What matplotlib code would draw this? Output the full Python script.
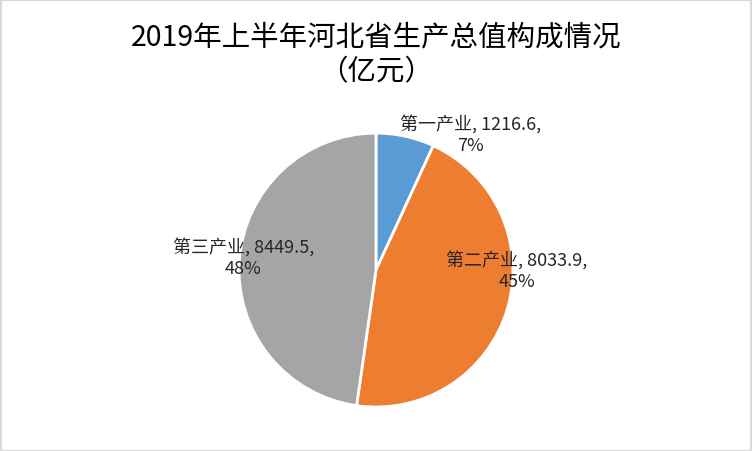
import numpy as np
import matplotlib
matplotlib.use('Agg')
from matplotlib import pyplot as plt

plt.rcParams['font.family'] = ['Noto Sans CJK SC', 'DejaVu Sans']

# 数据
categories = ['第一产业', '第二产业', '第三产业']
values = [1216.6, 8033.9, 8449.5]
colors = ['#5B9BD5', '#ED7D31', '#A5A5A5']
title = '2019年上半年河北省生产总值构成情况\n（亿元）'

fig = plt.figure(figsize=(7.52, 4.52), dpi=100)
fig.patch.set_facecolor('white')

ax = fig.add_axes([0.3178, 0.0973, 0.3644, 0.606])
wedges, _ = ax.pie(values, colors=colors, startangle=90, counterclock=False,
                   wedgeprops=dict(edgecolor='white', linewidth=2))
ax.set_xlim(-1, 1)
ax.set_ylim(-1, 1)
ax.set_aspect('equal')

total = sum(values)
pcts = [v / total * 100 for v in values]
# 标签位置（以饼图半径为单位）
label_pos = [(0.69, 0.99), (1.03, 0.0), (-0.97, 0.095)]
for name, v, p, (x, y) in zip(categories, values, pcts, label_pos):
    ax.text(x, y, f'{name}, {v},\n{p:.0f}%', ha='center', va='center',
            fontsize=13, color='#262626', linespacing=1.2, clip_on=False)

fig.text(0.5, 0.879, title, ha='center', va='center', fontsize=20.5,
         color='black', linespacing=1.2)

# 外边框
fig.add_artist(plt.Rectangle((0.001, 0.001), 0.998, 0.996, transform=fig.transFigure,
                             fill=False, edgecolor='#D9D9D9', linewidth=1.5))

fig.savefig('out.png', dpi=100)
